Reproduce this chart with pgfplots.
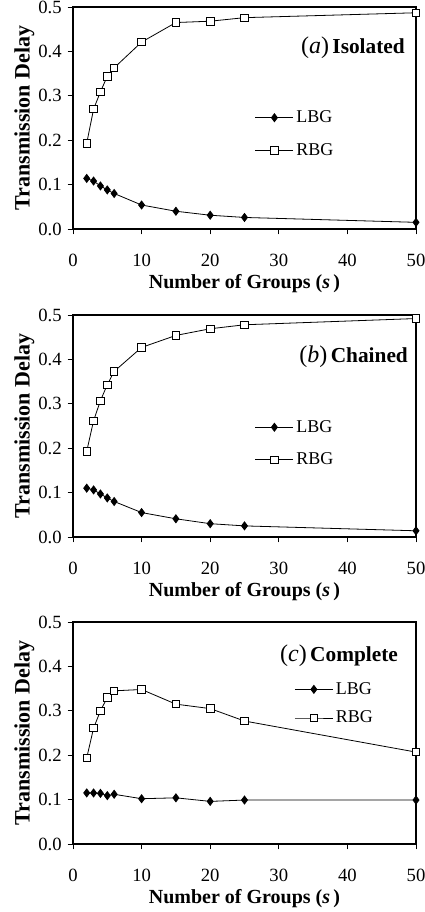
\documentclass[border=0pt]{standalone}
\usepackage{pgfplots}
\pgfplotsset{compat=1.18}
\usepackage{fontspec}
\setmainfont{Liberation Serif}

\tikzset{frame/.style={black, line width=0.9pt}}
\pgfplotsset{
  panel/.style={
    width=257.25pt, height=166.5pt, scale only axis,
    xmin=0, xmax=50, ymin=0, ymax=0.5,
    xtick={0,10,...,50}, ytick={0,0.1,...,0.5},
    tick align=outside, xtick pos=bottom, ytick pos=left,
    major tick length=4pt,
    axis line style={line width=0.8pt},
    every tick/.style={black, line width=0.7pt},
    /pgf/number format/assume math mode=true,
    yticklabel style={/pgf/number format/fixed, /pgf/number format/fixed zerofill, /pgf/number format/precision=1, font=\fontsize{14}{16}\selectfont, xshift=-1pt},
    xticklabel style={font=\fontsize{14}{16}\selectfont, yshift=-11pt},
    xlabel={\textbf{Number of Groups (\textit{s}\,)}},
    ylabel={\textbf{Transmission Delay}},
    xlabel style={font=\fontsize{15}{17}\selectfont, yshift=0.5pt},
    ylabel style={font=\fontsize{16.5}{18}\selectfont, yshift=-4pt},
    legend style={draw=none, fill=none, inner sep=0pt, row sep=10pt,
      font=\fontsize{13.5}{15}\selectfont, anchor=west},
    legend cell align=left,
    legend image code/.code={
      \draw[mark repeat=2, mark phase=2] plot coordinates {(0cm,0cm)(0.5cm,0cm)(1cm,0cm)};},
  },
  lbg/.style={black, line width=0.6pt, mark=diamond*, mark size=3pt, mark options={fill=black}},
  rbg/.style={black, line width=0.6pt, mark=square*, mark size=2.8pt, mark options={fill=white}},
}

\begin{document}
\begin{tikzpicture}
\useasboundingbox (-54.75pt,-512.25pt) rectangle (263.25pt,171.75pt);

% (a) Isolated
\begin{axis}[panel, at={(0,0)}, anchor=south west,
  legend style={at={(axis description cs:0.53,0.428)}}]
\draw[frame] (rel axis cs:0,1) -- (rel axis cs:1,1) -- (rel axis cs:1,0);
\addplot[lbg] coordinates {(2,0.114)(3,0.108)(4,0.097)(5,0.088)(6,0.080)(10,0.054)(15,0.040)(20,0.031)(25,0.026)(50,0.015)};
\addlegendentry{LBG}
\addplot[rbg] coordinates {(2,0.193)(3,0.270)(4,0.309)(5,0.344)(6,0.363)(10,0.421)(15,0.465)(20,0.468)(25,0.476)(50,0.487)};
\addlegendentry{RBG}
\node[anchor=east, inner sep=0pt] at (axis description cs:0.968,0.815)
  {{\fontsize{18}{20}\selectfont(\textit{a})}\ {\fontsize{16}{18}\selectfont\textbf{Isolated}}};
\end{axis}

% (b) Chained
\begin{axis}[panel, at={(0,-231pt)}, anchor=south west,
  legend style={at={(axis description cs:0.53,0.421)}}]
\draw[frame] (rel axis cs:0,1) -- (rel axis cs:1,1) -- (rel axis cs:1,0);
\addplot[lbg] coordinates {(2,0.110)(3,0.106)(4,0.097)(5,0.088)(6,0.080)(10,0.055)(15,0.041)(20,0.030)(25,0.025)(50,0.014)};
\addlegendentry{LBG}
\addplot[rbg] coordinates {(2,0.193)(3,0.262)(4,0.307)(5,0.343)(6,0.373)(10,0.427)(15,0.454)(20,0.469)(25,0.478)(50,0.492)};
\addlegendentry{RBG}
\node[anchor=east, inner sep=0pt] at (axis description cs:0.977,0.811)
  {{\fontsize{18}{20}\selectfont(\textit{b})}\ {\fontsize{16}{18}\selectfont\textbf{Chained}}};
\end{axis}

% (c) Complete
\begin{axis}[panel, at={(0,-461.25pt)}, anchor=south west,
  legend style={at={(axis description cs:0.645,0.632)}, row sep=7pt}]
\draw[frame] (rel axis cs:0,1) -- (rel axis cs:1,1) -- (rel axis cs:1,0);
\addplot[lbg] coordinates {(2,0.115)(3,0.115)(4,0.114)(5,0.109)(6,0.112)(10,0.102)(15,0.104)(20,0.096)(25,0.099)(50,0.099)};
\addlegendentry{LBG}
\addplot[rbg] coordinates {(2,0.194)(3,0.261)(4,0.300)(5,0.330)(6,0.345)(10,0.348)(15,0.315)(20,0.305)(25,0.277)(50,0.207)};
\addlegendentry{RBG}
\node[anchor=east, inner sep=0pt] at (axis description cs:0.948,0.848)
  {{\fontsize{18}{20}\selectfont(\textit{c})}\ {\fontsize{16}{18}\selectfont\textbf{Complete}}};
\end{axis}
\end{tikzpicture}
\end{document}
